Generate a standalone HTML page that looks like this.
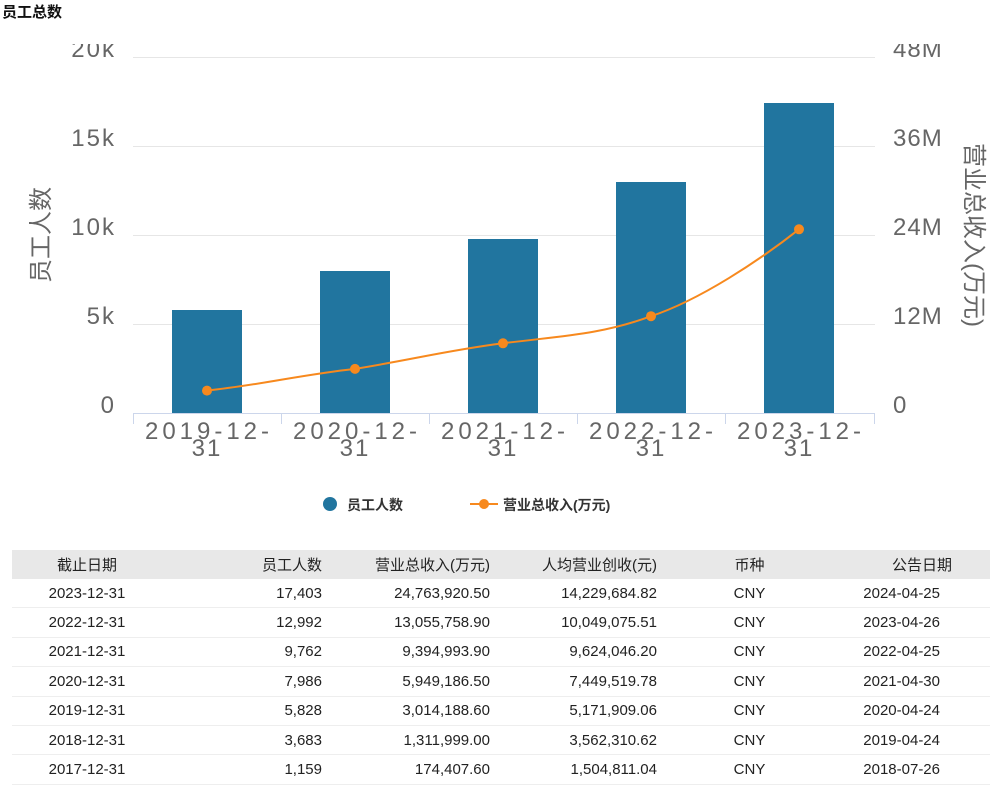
<!DOCTYPE html>
<html><head><meta charset="utf-8"><style>
body{margin:0;width:1000px;height:794px;background:#fff;overflow:hidden;font-family:"Liberation Sans","Noto Sans CJK SC",sans-serif;position:relative}
.t{position:absolute;left:2px;top:1px;font-size:15px;font-weight:bold;color:#111}
table{position:absolute;left:12px;top:550px;width:978px;border-collapse:collapse;font-size:15px;color:#222}
th{background:#e8e8e8;font-weight:normal;height:29px;padding:0}
td{height:28.4px;padding:0;border-bottom:1px solid #eee}
.c{text-align:center}.r{text-align:right}
.d{text-align:right;padding-right:50px}
</style></head><body>
<svg width="1000" height="540" style="position:absolute;left:0;top:0" font-family="Liberation Sans, Noto Sans CJK SC, sans-serif">
<g stroke="#e6e6e6" stroke-width="1">
<line x1="133" x2="875" y1="57.5" y2="57.5"/><line x1="133" x2="875" y1="146.5" y2="146.5"/>
<line x1="133" x2="875" y1="235.5" y2="235.5"/><line x1="133" x2="875" y1="324.5" y2="324.5"/>
</g>
<g fill="#666" font-size="24" text-anchor="end" letter-spacing="2">
<text x="116" y="57">20k</text><text x="116" y="146">15k</text><text x="116" y="235">10k</text><text x="116" y="324">5k</text><text x="116" y="413">0</text>
</g>
<g fill="#666" font-size="24" text-anchor="start" letter-spacing="1">
<text x="893" y="57">48M</text><text x="893" y="146">36M</text><text x="893" y="235">24M</text><text x="893" y="324">12M</text><text x="893" y="413">0</text>
</g>
<rect x="0" y="22" width="1000" height="22" fill="#fff"/>
<g fill="#21759f">
<rect x="172" y="310" width="70" height="103"/>
<rect x="320" y="271" width="70" height="142"/>
<rect x="468" y="239" width="70" height="174"/>
<rect x="616" y="182" width="70" height="231"/>
<rect x="764" y="103" width="70" height="310"/>
</g>
<line x1="133" x2="875" y1="413.5" y2="413.5" stroke="#ccd6eb"/>
<g stroke="#ccd6eb"><line x1="133.5" x2="133.5" y1="413" y2="424"/><line x1="281.5" x2="281.5" y1="413" y2="424"/><line x1="429.5" x2="429.5" y1="413" y2="424"/><line x1="577.5" x2="577.5" y1="413" y2="424"/><line x1="725.5" x2="725.5" y1="413" y2="424"/><line x1="874.5" x2="874.5" y1="413" y2="424"/></g>
<path d="M207,390.6 C260,385 300,375 355,368.9 C410,360 450,350 503,343.3 C560,336 600,335 651,316.2 C700,300 760,260 799,229.3" fill="none" stroke="#f7891e" stroke-width="2"/>
<g fill="#f7891e"><circle cx="207" cy="390.6" r="5"/><circle cx="355" cy="368.9" r="5"/><circle cx="503" cy="343.3" r="5"/><circle cx="651" cy="316.2" r="5"/><circle cx="799" cy="229.3" r="5"/></g>
<g fill="#666" font-size="24">
<text x="145" y="439" textLength="124" lengthAdjust="spacing">2019-12-</text><text x="207" y="456" text-anchor="middle" letter-spacing="2">31</text>
<text x="293" y="439" textLength="124" lengthAdjust="spacing">2020-12-</text><text x="355" y="456" text-anchor="middle" letter-spacing="2">31</text>
<text x="441" y="439" textLength="124" lengthAdjust="spacing">2021-12-</text><text x="503" y="456" text-anchor="middle" letter-spacing="2">31</text>
<text x="589" y="439" textLength="124" lengthAdjust="spacing">2022-12-</text><text x="651" y="456" text-anchor="middle" letter-spacing="2">31</text>
<text x="737" y="439" textLength="124" lengthAdjust="spacing">2023-12-</text><text x="799" y="456" text-anchor="middle" letter-spacing="2">31</text>
</g>
<text transform="translate(49,235) rotate(-90)" fill="#666" font-size="24" text-anchor="middle">员工人数</text>
<text transform="translate(966,235) rotate(90)" fill="#666" font-size="24" text-anchor="middle">营业总收入(万元)</text>
<circle cx="330" cy="504" r="7" fill="#21759f"/>
<text x="347" y="510" font-size="14" fill="#333" font-weight="bold">员工人数</text>
<line x1="470" x2="498" y1="504" y2="504" stroke="#f7891e" stroke-width="2"/><circle cx="484" cy="504" r="5" fill="#f7891e"/>
<text x="503" y="510" font-size="14" fill="#333" font-weight="bold">营业总收入(万元)</text>
</svg>
<div class="t">员工总数</div>
<table>
<tr><th class="c" style="width:150px">截止日期</th><th class="r" style="width:160px">员工人数</th><th class="r" style="width:168px">营业总收入(万元)</th><th class="r" style="width:167px">人均营业创收(元)</th><th class="c" style="width:185px">币种</th><th class="r" style="padding-right:38px">公告日期</th></tr>
<tr><td class="c">2023-12-31</td><td class="r">17,403</td><td class="r">24,763,920.50</td><td class="r">14,229,684.82</td><td class="c">CNY</td><td class="d">2024-04-25</td></tr>
<tr><td class="c">2022-12-31</td><td class="r">12,992</td><td class="r">13,055,758.90</td><td class="r">10,049,075.51</td><td class="c">CNY</td><td class="d">2023-04-26</td></tr>
<tr><td class="c">2021-12-31</td><td class="r">9,762</td><td class="r">9,394,993.90</td><td class="r">9,624,046.20</td><td class="c">CNY</td><td class="d">2022-04-25</td></tr>
<tr><td class="c">2020-12-31</td><td class="r">7,986</td><td class="r">5,949,186.50</td><td class="r">7,449,519.78</td><td class="c">CNY</td><td class="d">2021-04-30</td></tr>
<tr><td class="c">2019-12-31</td><td class="r">5,828</td><td class="r">3,014,188.60</td><td class="r">5,171,909.06</td><td class="c">CNY</td><td class="d">2020-04-24</td></tr>
<tr><td class="c">2018-12-31</td><td class="r">3,683</td><td class="r">1,311,999.00</td><td class="r">3,562,310.62</td><td class="c">CNY</td><td class="d">2019-04-24</td></tr>
<tr><td class="c">2017-12-31</td><td class="r">1,159</td><td class="r">174,407.60</td><td class="r">1,504,811.04</td><td class="c">CNY</td><td class="d">2018-07-26</td></tr>
</table>
</body></html>
